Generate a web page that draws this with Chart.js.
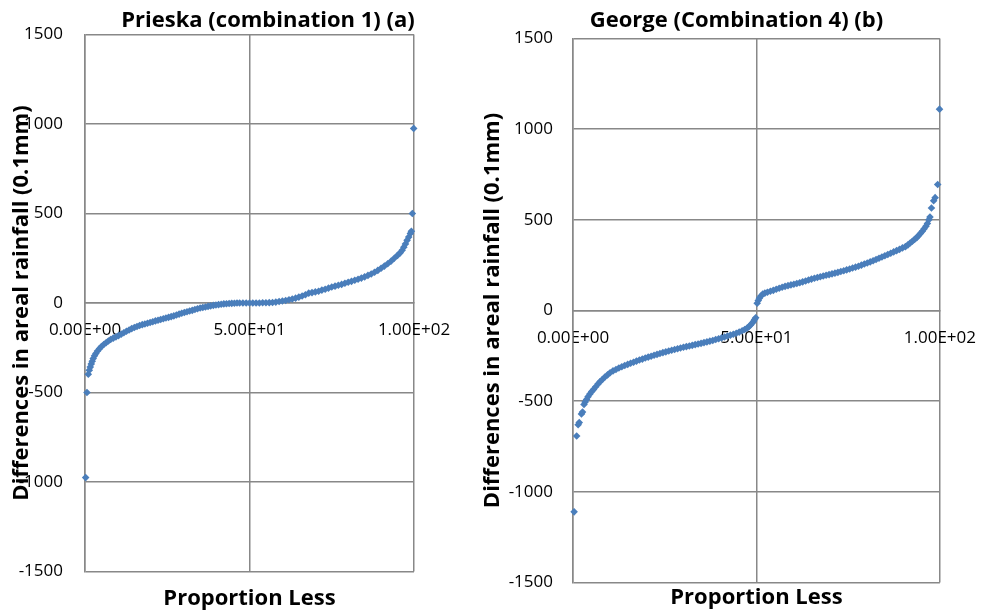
<!DOCTYPE html>
<html>
<head>
<meta charset="utf-8">
<script src="https://cdn.jsdelivr.net/npm/chart.js@4.4.1/dist/chart.umd.min.js"></script>
<style>
	html, body { margin: 0; padding: 0; background: #fff; overflow: hidden; }
	body { width: 983px; height: 615px; position: relative; }
	#box-a { position: absolute; left: 0; top: 0; width: 536px; height: 615px; }
	#box-b { position: absolute; left: 480px; top: 0; width: 513px; height: 615px; }
</style>
</head>
<body>
<div id="box-a"><canvas id="prieska"></canvas></div>
<div id="box-b"><canvas id="george"></canvas></div>
<script>
// Prieska (combination 1): proportion less (%) and difference (0.1mm)
const prieskaProportion = [
	0.2, 0.6, 1.0, 1.3, 1.6, 1.9, 2.2, 2.5, 2.9, 3.3, 3.8, 4.4, 5.0, 5.7, 6.4, 7.1, 7.8, 8.6, 9.4, 10.2,
	11.0, 11.8, 12.6, 13.4, 14.2, 15.0, 15.8, 16.6, 17.4, 18.2, 19.0, 19.8, 20.6, 21.4, 22.2, 23.0, 23.8, 24.6, 25.4, 26.2,
	27.0, 27.8, 28.6, 29.4, 30.2, 31.0, 31.8, 32.6, 33.4, 34.2, 35.0, 35.8, 36.6, 37.4, 38.2, 39.0, 39.8, 40.6, 41.4, 42.2,
	43.0, 43.8, 44.6, 45.4, 46.2, 47.0, 48.0, 49.0, 50.0, 51.0, 52.0, 53.0, 54.0, 55.0, 56.0, 57.0, 58.0, 59.0, 60.0, 61.0,
	62.0, 63.0, 64.0, 65.0, 66.0, 67.0, 68.0, 69.0, 70.0, 71.0, 72.0, 73.0, 74.0, 75.0, 76.0, 77.0, 78.0, 79.0, 80.0, 81.0,
	82.0, 83.0, 84.0, 85.0, 86.0, 87.0, 88.0, 89.0, 90.0, 91.0, 92.0, 93.0, 94.0, 95.0, 95.8, 96.4, 96.9, 97.4, 97.9, 98.4,
	98.9, 99.2, 99.5, 99.9
];
const prieskaDiff = [
	-975, -500, -398, -375, -358, -340, -325, -310, -295, -282, -268, -255, -243, -232, -222, -212, -204, -196, -189, -182,
	-174, -166, -158, -151, -143, -137, -131, -126, -121, -117, -113, -109, -105, -100, -96, -92, -88, -84, -80, -76,
	-72, -67, -62, -57, -53, -49, -45, -41, -36, -32, -28, -25, -22, -19, -16, -13, -11, -9, -7, -5,
	-4, -3, -2, -1, 0, 0, 0, 0, 0, 0, 0, 0, 1, 1, 2, 3, 5, 8, 11, 14,
	18, 22, 27, 33, 39, 46, 55, 58, 62, 66, 72, 77, 83, 89, 94, 99, 104, 110, 116, 121,
	127, 133, 139, 146, 154, 162, 172, 182, 194, 206, 219, 233, 250, 266, 280, 295, 312, 330, 350, 368,
	388, 400, 500, 975
];

// George (Combination 4)
const georgeProportion = [
	0.3, 1.0, 1.4, 1.7, 2.3, 2.6, 3.0, 3.3, 3.7, 4.1, 4.6, 5.1, 5.6, 6.2, 6.8, 7.4, 8.0, 8.7, 9.4, 10.1,
	10.9, 11.7, 12.5, 13.3, 14.1, 14.9, 15.7, 16.5, 17.3, 18.1, 18.9, 19.7, 20.5, 21.3, 22.1, 22.9, 23.7, 24.5, 25.3, 26.1,
	26.9, 27.7, 28.5, 29.3, 30.1, 30.9, 31.7, 32.5, 33.3, 34.1, 34.9, 35.7, 36.5, 37.3, 38.1, 38.9, 39.7, 40.5, 41.3, 42.1,
	42.9, 43.7, 44.5, 45.3, 46.1, 46.8, 47.4, 47.9, 48.4, 48.8, 49.2, 49.5, 49.8, 50.2, 50.5, 50.8, 51.2, 51.7, 52.3, 53.0,
	53.8, 54.6, 55.4, 56.2, 57.0, 57.8, 58.6, 59.4, 60.2, 61.0, 61.8, 62.6, 63.4, 64.2, 65.0, 65.8, 66.6, 67.4, 68.2, 69.0,
	69.8, 70.6, 71.4, 72.2, 73.0, 73.8, 74.6, 75.4, 76.2, 77.0, 77.8, 78.6, 79.4, 80.2, 81.0, 81.8, 82.6, 83.4, 84.2, 85.0,
	85.8, 86.6, 87.4, 88.2, 89.0, 89.8, 90.6, 91.3, 91.9, 92.5, 93.1, 93.7, 94.2, 94.7, 95.2, 95.7, 96.2, 96.6, 97.0, 97.3,
	97.7, 98.3, 98.7, 99.4, 99.9
];
const georgeDiff = [
	-1110, -692, -630, -618, -570, -560, -518, -505, -490, -475, -460, -447, -435, -420, -405, -392, -380, -367, -355, -343,
	-333, -325, -317, -310, -303, -297, -291, -285, -279, -273, -268, -262, -257, -252, -247, -242, -237, -232, -228, -223,
	-219, -215, -211, -207, -203, -199, -196, -192, -188, -185, -181, -177, -173, -169, -165, -160, -156, -151, -146, -141,
	-136, -131, -125, -119, -112, -105, -98, -90, -80, -70, -60, -50, -40, 40, 55, 68, 80, 90, 96, 101,
	106, 111, 117, 123, 128, 133, 137, 141, 145, 149, 153, 158, 163, 168, 173, 178, 182, 186, 190, 194,
	198, 202, 206, 210, 215, 219, 224, 229, 234, 239, 244, 250, 256, 262, 268, 274, 281, 288, 295, 302,
	309, 316, 323, 330, 337, 345, 352, 362, 372, 382, 392, 402, 413, 425, 437, 450, 465, 480, 500, 515,
	565, 605, 622, 695, 1110
];

const xTicks = [0, 50, 100];
const yTicks = [-1500, -1000, -500, 0, 500, 1000, 1500];

Chart.defaults.font.family = '"Open Sans"';
Chart.defaults.color = '#000';

const GRID = '#888888';
const BLUE = '#4a7ebb';

function sci(v) {
	const [m, e] = Number(v).toExponential(2).split('e');
	return m + 'E' + e[0] + e.slice(1).padStart(2, '0');
}

function makeChart(id, title, xs, ys, opt) {
	const points = xs.map((x, i) => ({x: x, y: ys[i]}));
	const data = {
		datasets: [{
			data: points,
			backgroundColor: BLUE,
			borderColor: BLUE,
			pointStyle: 'rectRot',
			pointRadius: 3.8,
			pointBorderWidth: 0,
			clip: false
		}]
	};
	const config = {
		type: 'scatter',
		data: data,
		options: {
			responsive: true,
			maintainAspectRatio: false,
			animation: false,
			events: [],
			layout: {padding: 0},
			plugins: {
				legend: {display: false},
				tooltip: {enabled: false},
				title: {
					display: true,
					text: title,
					font: {size: 22, weight: 'bold', lineHeight: 1.2},
					padding: {top: 8, bottom: opt.titleGap}
				},
				subtitle: {
					display: true,
					position: 'bottom',
					fullSize: false,
					text: 'Proportion Less',
					color: '#000',
					font: {size: 22, weight: 'bold', lineHeight: 1.2},
					padding: {top: opt.subTop, bottom: opt.subBottom}
				}
			},
			scales: {
				x: {
					type: 'linear',
					position: {y: 0},
					min: 0,
					max: 100,
					afterBuildTicks: s => { s.ticks = xTicks.map(v => ({value: v})); },
					ticks: {
						callback: v => sci(v),
						font: {size: 17},
						padding: 17,
						maxRotation: 0,
						autoSkip: false
					},
					grid: {color: GRID, lineWidth: 1.5, drawTicks: false},
					border: {color: GRID, width: 1.5}
				},
				y: {
					type: 'linear',
					position: 'left',
					min: -1500,
					max: 1500,
					afterBuildTicks: s => { s.ticks = yTicks.map(v => ({value: v})); },
					afterFit: s => { s.width = opt.yWidth; },
					ticks: {
						callback: v => String(v),
						font: {size: 17},
						padding: opt.yPad
					},
					title: {
						display: true,
						text: 'Differences in areal rainfall (0.1mm)',
						font: {size: 22, weight: 'bold', lineHeight: 1.2},
						padding: {top: opt.yTitlePad, bottom: 0}
					},
					grid: {color: GRID, lineWidth: 1.5, drawTicks: false},
					border: {color: GRID, width: 1.5}
				},
				// empty right-hand gap so the plot ends where the original does
				spacer: {
					type: 'linear',
					axis: 'y',
					position: 'right',
					grid: {display: false},
					border: {display: false},
					ticks: {display: false},
					afterFit: s => { s.width = opt.rightGap; }
				}
			}
		}
	};
	return new Chart(document.getElementById(id), config);
}

makeChart('prieska', 'Prieska (combination 1) (a)', prieskaProportion, prieskaDiff,
	{rightGap: 122, titleGap: 0, subTop: 14, subBottom: 3, yWidth: 85, yPad: 22, yTitlePad: 9});
makeChart('george', 'George (Combination 4) (b)', georgeProportion, georgeDiff,
	{rightGap: 53, titleGap: 4, subTop: 2, subBottom: 4, yWidth: 93, yPad: 20, yTitlePad: 0});
</script>
</body>
</html>
